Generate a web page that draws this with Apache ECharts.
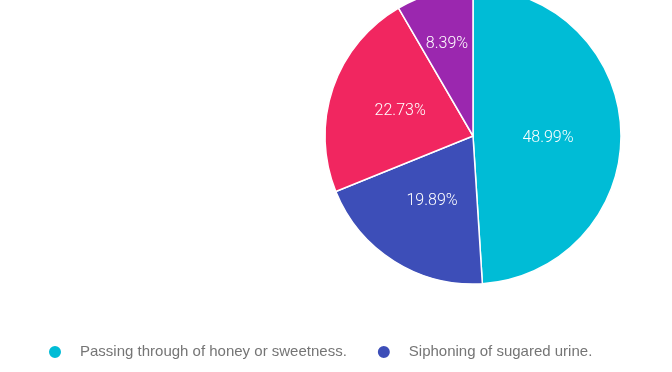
<!DOCTYPE html>
<html>
<head>
<meta charset="utf-8">
<script src="https://cdn.jsdelivr.net/npm/echarts@6/dist/echarts.min.js"></script>
<style>
html,body{margin:0;padding:0;background:#fff;}
#chart{width:672px;height:372px;}
</style>
</head>
<body>
<div id="chart"></div>
<script>
const categories = [
  "Passing through of honey or sweetness.",
  "Siphoning of sugared urine.",
  "Excessive thirst and hunger.",
  "None of the above."
];
const values = [48.99, 19.89, 22.73, 8.39];
const colors = ["#00BCD6", "#3D4EB8", "#F12660", "#9B27AF"];

const labelStyle = {
  show: true,
  position: 'inside',
  formatter: '{d}%',
  color: '#ffffff',
  fontFamily: 'Roboto, sans-serif',
  fontWeight: 300,
  fontSize: 16
};
const labelOffsets = { 0: [-2, 4], 3: [-6, -18] };

const chart = echarts.init(document.getElementById('chart'));
chart.setOption({
  animation: false,
  backgroundColor: '#ffffff',
  color: colors,
  legend: {
    orient: 'horizontal',
    left: 42,
    top: 339,
    width: 590,
    icon: 'circle',
    itemWidth: 14,
    itemHeight: 14,
    itemGap: 29,
    textStyle: {
      fontFamily: 'Liberation Sans, Arial, sans-serif',
      fontSize: 15,
      color: '#757575',
      padding: [0, 0, 0, 13]
    },
    data: categories
  },
  series: [{
    type: 'pie',
    center: [473, 136],
    radius: 148,
    startAngle: 90,
    clockwise: true,
    percentPrecision: 2,
    itemStyle: { borderColor: '#ffffff', borderWidth: 1.5 },
    label: labelStyle,
    labelLine: { show: false },
    emphasis: { disabled: true },
    data: categories.map((n, i) => ({
      name: n,
      value: values[i],
      label: labelOffsets[i] ? { offset: labelOffsets[i] } : undefined
    }))
  }]
});
</script>
</body>
</html>
